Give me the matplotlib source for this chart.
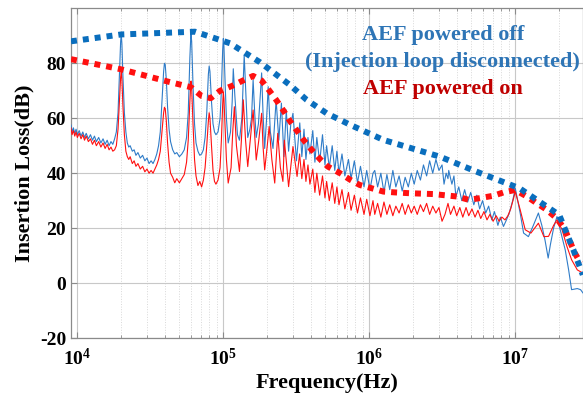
import matplotlib
matplotlib.use("Agg")
import matplotlib.pyplot as plt
from matplotlib.ticker import FixedLocator, NullFormatter, LogLocator

# ---------------- data ----------------
# AEF powered off (injection loop disconnected) - measured trace
freq_off = [9.05e3, 9.2e3, 9.4e3, 9.6e3, 9.8e3, 1.0e4, 1.03e4, 1.06e4, 1.09e4, 1.12e4,
            1.15e4, 1.19e4, 1.23e4, 1.27e4, 1.31e4, 1.35e4, 1.4e4, 1.45e4, 1.5e4, 1.55e4,
            1.6e4, 1.65e4, 1.7e4, 1.75e4, 1.8e4, 1.85e4, 1.9e4, 1.95e4, 1.98e4, 2.0e4,
            2.02e4, 2.05e4, 2.1e4, 2.15e4, 2.2e4, 2.25e4, 2.3e4, 2.38e4, 2.45e4, 2.52e4,
            2.6e4, 2.7e4, 2.8e4, 2.9e4, 3.0e4, 3.1e4, 3.2e4, 3.3e4, 3.4e4, 3.5e4,
            3.6e4, 3.7e4, 3.8e4, 3.9e4, 3.95e4, 4.0e4, 4.07e4, 4.15e4, 4.25e4, 4.35e4,
            4.5e4, 4.65e4, 4.8e4, 5.0e4, 5.2e4, 5.4e4, 5.6e4, 5.75e4, 5.9e4, 6.0e4,
            6.07e4, 6.2e4, 6.35e4, 6.5e4, 6.7e4, 6.9e4, 7.1e4, 7.3e4, 7.5e4, 7.7e4,
            7.9e4, 8.0e4, 8.1e4, 8.3e4, 8.5e4, 8.7e4, 8.9e4, 9.2e4, 9.5e4, 9.7e4,
            9.9e4, 1.0e5, 1.01e5, 1.03e5, 1.05e5, 1.08e5, 1.12e5, 1.15e5, 1.17e5, 1.2e5,
            1.25e5, 1.29e5, 1.34e5, 1.37e5, 1.39e5, 1.43e5, 1.47e5, 1.52e5, 1.56e5, 1.6e5,
            1.64e5, 1.68e5, 1.74e5, 1.8e5, 1.83e5, 1.87e5, 1.92e5, 1.98e5, 2.03e5, 2.1e5,
            2.19e5, 2.3e5, 2.4e5, 2.5e5, 2.6e5, 2.7e5, 2.8e5, 2.9e5, 3.0e5, 3.17e5,
            3.34e5, 3.45e5, 3.57e5, 3.68e5, 3.8e5, 3.92e5, 4.1e5, 4.24e5, 4.37e5, 4.57e5,
            4.78e5, 4.97e5, 5.1e5, 5.32e5, 5.57e5, 5.8e5, 6.0e5, 6.2e5, 6.5e5, 6.8e5,
            7.2e5, 7.5e5, 7.9e5, 8.3e5, 8.7e5, 9.2e5, 9.6e5, 1.01e6, 1.06e6, 1.09e6,
            1.14e6, 1.2e6, 1.26e6, 1.32e6, 1.38e6, 1.45e6, 1.52e6, 1.6e6, 1.68e6, 1.76e6,
            1.85e6, 1.94e6, 2.03e6, 2.13e6, 2.24e6, 2.35e6, 2.47e6, 2.59e6, 2.72e6, 2.86e6,
            3.0e6, 3.15e6, 3.25e6, 3.36e6, 3.46e6, 3.5e6, 3.68e6, 3.8e6, 3.92e6, 4.1e6,
            4.3e6, 4.5e6, 4.72e6, 4.95e6, 5.2e6, 5.45e6, 5.7e6, 5.97e6, 6.27e6, 6.57e6,
            6.9e6, 7.2e6, 7.6e6, 7.9e6, 8.3e6, 8.7e6, 9.1e6, 9.6e6, 1.0e7, 1.04e7,
            1.08e7, 1.14e7, 1.23e7, 1.33e7, 1.44e7, 1.52e7, 1.6e7, 1.68e7, 1.74e7, 1.83e7,
            1.93e7, 2.02e7, 2.2e7, 2.32e7, 2.43e7, 2.66e7, 2.8e7, 2.91e7]
il_off = [57.5, 55.0, 56.5, 54.5, 56.0, 54.0, 55.5, 53.5, 55.0, 53.0,
          54.5, 52.5, 54.0, 52.0, 53.5, 51.5, 53.0, 51.0, 52.5, 50.5,
          52.0, 50.0, 51.5, 50.5, 52.5, 55.0, 62.0, 78.0, 88.0, 90.5,
          87.0, 76.0, 62.0, 55.0, 51.0, 49.5, 50.0, 48.0, 48.5, 46.5,
          47.5, 45.5, 46.5, 44.5, 45.5, 43.5, 44.5, 43.5, 45.0, 47.0,
          50.0, 55.0, 66.0, 77.0, 80.0, 79.5, 74.0, 64.0, 56.0, 51.5,
          48.5, 47.0, 47.5, 46.0, 47.0, 48.5, 53.0, 62.0, 82.0, 91.0,
          88.0, 72.0, 58.0, 51.0, 48.0, 46.5, 47.0, 48.5, 53.0, 62.0,
          76.0, 79.0, 77.0, 66.0, 58.0, 55.0, 54.0, 55.0, 60.0, 70.0,
          85.0, 89.0, 86.0, 72.0, 60.0, 51.0, 55.0, 66.0, 78.0, 68.0,
          54.0, 52.0, 60.0, 74.0, 83.0, 68.0, 53.0, 56.0, 60.0, 74.0,
          62.0, 53.0, 58.0, 70.0, 76.5, 62.0, 49.0, 60.0, 71.5, 55.0,
          49.0, 66.7, 52.0, 65.5, 46.0, 63.0, 48.0, 58.0, 61.8, 44.5,
          58.3, 46.0, 56.0, 45.0, 53.0, 47.0, 55.5, 44.0, 53.0, 44.0,
          54.0, 43.0, 50.0, 42.0, 50.0, 41.0, 48.0, 40.0, 47.0, 39.0,
          45.0, 38.0, 44.5, 36.5, 42.5, 35.0, 41.0, 34.0, 40.0, 41.0,
          35.0, 40.0, 33.0, 39.5, 34.0, 41.0, 35.0, 39.0, 33.5, 38.5,
          35.0, 40.0, 36.0, 41.0, 37.5, 43.0, 39.0, 44.5, 40.0, 45.0,
          41.0, 43.0, 36.0, 40.0, 38.0, 41.0, 36.0, 39.0, 31.5, 35.0,
          30.0, 34.0, 29.5, 33.0, 28.5, 32.0, 27.0, 30.0, 25.5, 28.0,
          23.0, 26.0, 21.0, 24.0, 20.6, 23.0, 25.5, 30.0, 34.5, 30.0,
          25.5, 18.2, 16.9, 21.0, 25.5, 21.0, 15.5, 9.1, 14.0, 20.0,
          24.2, 20.0, 12.0, 4.8, -2.4, -2.0, -2.4, -3.6]

# AEF powered on - measured trace
freq_on = [9.05e3, 9.2e3, 9.4e3, 9.6e3, 9.8e3, 1.0e4, 1.03e4, 1.06e4, 1.09e4, 1.12e4,
           1.15e4, 1.19e4, 1.23e4, 1.27e4, 1.31e4, 1.35e4, 1.4e4, 1.45e4, 1.5e4, 1.55e4,
           1.6e4, 1.65e4, 1.7e4, 1.75e4, 1.8e4, 1.85e4, 1.9e4, 1.95e4, 1.98e4, 2.0e4,
           2.02e4, 2.05e4, 2.1e4, 2.15e4, 2.2e4, 2.25e4, 2.3e4, 2.38e4, 2.45e4, 2.52e4,
           2.6e4, 2.7e4, 2.8e4, 2.9e4, 3.0e4, 3.1e4, 3.2e4, 3.3e4, 3.4e4, 3.5e4,
           3.6e4, 3.7e4, 3.8e4, 3.9e4, 3.95e4, 4.0e4, 4.07e4, 4.15e4, 4.25e4, 4.35e4,
           4.5e4, 4.65e4, 4.8e4, 5.0e4, 5.2e4, 5.4e4, 5.6e4, 5.75e4, 5.9e4, 6.0e4,
           6.07e4, 6.2e4, 6.35e4, 6.5e4, 6.7e4, 6.9e4, 7.1e4, 7.3e4, 7.5e4, 7.7e4,
           7.9e4, 8.0e4, 8.1e4, 8.3e4, 8.5e4, 8.7e4, 8.9e4, 9.2e4, 9.5e4, 9.7e4,
           9.9e4, 1.0e5, 1.01e5, 1.03e5, 1.05e5, 1.08e5, 1.13e5, 1.16e5, 1.19e5, 1.23e5,
           1.29e5, 1.33e5, 1.37e5, 1.42e5, 1.47e5, 1.53e5, 1.6e5, 1.64e5, 1.68e5, 1.75e5,
           1.83e5, 1.87e5, 1.92e5, 2.0e5, 2.06e5, 2.15e5, 2.25e5, 2.36e5, 2.46e5, 2.56e5,
           2.62e5, 2.8e5, 3.0e5, 3.2e5, 3.33e5, 3.45e5, 3.57e5, 3.68e5, 3.8e5, 3.92e5,
           4.1e5, 4.24e5, 4.37e5, 4.57e5, 4.78e5, 4.97e5, 5.1e5, 5.32e5, 5.57e5, 5.8e5,
           6.0e5, 6.2e5, 6.5e5, 6.8e5, 7.2e5, 7.5e5, 7.9e5, 8.3e5, 8.7e5, 9.2e5,
           9.6e5, 1.01e6, 1.06e6, 1.09e6, 1.14e6, 1.2e6, 1.26e6, 1.32e6, 1.38e6, 1.45e6,
           1.52e6, 1.6e6, 1.68e6, 1.76e6, 1.85e6, 1.94e6, 2.03e6, 2.13e6, 2.24e6, 2.35e6,
           2.47e6, 2.59e6, 2.72e6, 2.86e6, 3.0e6, 3.15e6, 3.3e6, 3.46e6, 3.6e6, 3.8e6,
           3.97e6, 4.17e6, 4.37e6, 4.6e6, 4.8e6, 5.05e6, 5.3e6, 5.55e6, 5.8e6, 6.1e6,
           6.4e6, 6.7e6, 7.05e6, 7.4e6, 7.75e6, 8.1e6, 8.5e6, 8.9e6, 9.3e6, 9.75e6,
           1.0e7, 1.08e7, 1.17e7, 1.28e7, 1.44e7, 1.57e7, 1.69e7, 1.83e7, 1.93e7, 2.09e7,
           2.26e7, 2.43e7, 2.66e7, 2.91e7]
il_on = [56.5, 54.0, 55.5, 53.5, 55.0, 53.0, 54.5, 52.5, 54.0, 52.0,
         53.5, 51.5, 52.5, 50.5, 52.0, 50.0, 51.5, 49.5, 51.0, 49.0,
         50.5, 48.5, 49.5, 48.0, 48.5, 50.0, 56.0, 68.0, 75.0, 77.0,
         74.0, 65.0, 54.0, 48.0, 46.0, 45.0, 46.0, 43.5, 44.5, 42.5,
         43.5, 41.5, 42.5, 40.5, 41.5, 40.0, 41.0, 40.0, 41.5, 43.0,
         45.0, 48.0, 55.0, 62.0, 64.0, 63.5, 59.0, 51.0, 44.0, 40.0,
         38.5, 36.5, 38.0, 36.5, 38.0, 39.5, 44.0, 52.0, 66.0, 73.5,
         71.0, 58.0, 45.0, 39.0, 35.5, 37.0, 35.0, 37.5, 42.0, 50.0,
         59.0, 62.0, 60.0, 50.0, 41.0, 37.0, 36.0, 37.5, 42.0, 52.0,
         65.0, 69.5, 67.0, 56.0, 45.0, 36.4, 42.0, 55.0, 64.2, 50.0,
         40.6, 52.0, 66.7, 52.0, 42.4, 52.0, 63.0, 54.0, 44.8, 52.0,
         61.8, 50.0, 41.2, 50.0, 57.0, 45.0, 36.4, 54.5, 42.0, 37.0,
         52.0, 35.1, 49.7, 38.8, 47.0, 38.0, 45.0, 37.0, 43.0, 36.0,
         41.5, 33.0, 40.0, 32.0, 39.0, 31.0, 37.0, 30.0, 36.5, 29.0,
         35.0, 28.5, 34.0, 27.0, 33.0, 26.5, 32.0, 25.5, 31.0, 25.0,
         30.5, 24.5, 30.0, 25.0, 29.0, 24.0, 29.5, 25.0, 28.5, 24.5,
         28.0, 25.5, 29.0, 25.0, 28.5, 25.5, 28.0, 25.0, 28.5, 26.0,
         29.0, 25.0, 28.0, 25.5, 27.5, 22.5, 25.0, 29.0, 25.0, 28.0,
         24.5, 27.5, 24.0, 27.5, 24.5, 27.0, 24.0, 26.5, 23.5, 26.0,
         23.0, 25.0, 22.5, 24.5, 22.5, 24.0, 23.0, 24.5, 27.0, 31.0,
         33.3, 26.7, 19.4, 18.2, 21.8, 16.9, 17.0, 21.0, 23.0, 19.5,
         13.3, 8.5, 4.8, 3.6]

# Dotted envelope lines
env_off_freq = [9.05e3, 2.0e4, 6.4e4, 1.11e5, 1.78e5, 2.86e5, 3.72e5, 5.1e5, 7.4e5,
                1.25e6, 3.05e6, 5.4e6, 1.07e7, 2.0e7, 2.5e7, 2.9e7]
env_off_il = [88.0, 90.5, 91.5, 87.3, 80.4, 72.1, 66.7, 61.8, 57.6,
              52.1, 46.0, 40.6, 34.5, 24.8, 12.1, 3.0]
env_on_freq = [9.05e3, 2.0e4, 4.2e4, 6.0e4, 7.1e4, 8.2e4, 9.5e4, 1.14e5, 1.36e5, 1.6e5,
               1.83e5, 2.07e5, 2.3e5, 2.58e5, 2.86e5, 3.2e5, 3.57e5, 4.03e5, 4.6e5, 5.2e5,
               6.3e5, 7.4e5, 8.6e5, 1.04e6, 1.25e6, 1.5e6, 1.9e6, 2.74e6, 4.0e6, 4.8e6,
               5.7e6, 7.1e6, 8.3e6, 1.0e7, 1.2e7, 1.4e7, 1.64e7, 1.92e7, 2.19e7, 2.37e7,
               2.56e7, 2.8e7]
env_on_il = [81.5, 77.8, 73.3, 71.3, 68.1, 67.3, 70.0, 71.7, 73.7, 75.4,
             73.7, 70.0, 66.7, 62.8, 59.0, 55.4, 51.9, 48.5, 45.1, 42.4,
             40.0, 37.6, 35.7, 34.5, 33.3, 33.0, 32.7, 32.4, 31.5, 30.3,
             30.9, 31.8, 33.0, 33.9, 31.5, 29.1, 26.7, 23.6, 19.4, 15.1,
             10.9, 7.3]

xtick_values = [1e4, 1e5, 1e6, 1e7]
xtick_labels = ["4", "5", "6", "7"]
ytick_values = [-20, 0, 20, 40, 60, 80]

label_off_1 = "AEF powered off"
label_off_2 = "(Injection loop disconnected)"
label_on = "AEF powered on"

# ---------------- figure ----------------
plt.rcParams["font.family"] = ["Liberation Serif", "DejaVu Serif"]
plt.rcParams["font.weight"] = "bold"
plt.rcParams["mathtext.fontset"] = "custom"
plt.rcParams["mathtext.rm"] = "Liberation Serif:bold"
plt.rcParams["mathtext.bf"] = "Liberation Serif:bold"
plt.rcParams["mathtext.it"] = "Liberation Serif:bold"

fig = plt.figure(figsize=(5.83, 4.07), dpi=100)
ax = fig.add_axes([0.1218, 0.1695, 0.8782, 0.810])

blue_trace = "#2F7CC8"
blue_dot = "#0A6EBD"
red = "#FF1010"

ax.plot(freq_off, il_off, color=blue_trace, lw=0.8, zorder=3)
ax.plot(freq_on, il_on, color=red, lw=0.8, zorder=3)
ax.plot(env_on_freq, env_on_il, color=red, lw=4.3, linestyle=(0, (1, 1)),
        dash_capstyle="butt", zorder=4)
ax.plot(env_off_freq, env_off_il, color=blue_dot, lw=4.3, linestyle=(0, (1, 1)),
        dash_capstyle="butt", zorder=5)

ax.set_xscale("log")
ax.set_xlim(9.05e3, 2.91e7)
ax.set_ylim(-20, 100)

ax.xaxis.set_major_locator(FixedLocator(xtick_values))
ax.set_xticklabels([r"$\mathbf{10^{%s}}$" % e for e in xtick_labels])
ax.xaxis.set_minor_locator(LogLocator(base=10, subs=range(2, 10), numticks=20))
ax.xaxis.set_minor_formatter(NullFormatter())
ax.set_yticks(ytick_values)
ax.set_yticklabels([str(v) for v in ytick_values])

ax.grid(True, which="major", color="#c8c8c8", lw=0.8, ls="-", zorder=0)
ax.grid(True, which="minor", axis="x", color="#d8d8d8", lw=0.7, ls=":", zorder=0)
ax.set_axisbelow(True)

for s in ax.spines.values():
    s.set_color("#8a8a8a")
    s.set_linewidth(0.9)
ax.tick_params(which="both", direction="in", colors="#8a8a8a", top=True, right=False,
               labelcolor="black", labelsize=14)
ax.tick_params(which="major", length=4)
ax.tick_params(which="minor", length=2)
for t in ax.get_xticklabels() + ax.get_yticklabels():
    t.set_fontweight("bold")
ax.tick_params(axis="x", pad=7)

ax.set_xlabel("Frequency(Hz)", fontsize=16, fontweight="bold", labelpad=3)
ax.set_ylabel("Insertion Loss(dB)", fontsize=16, fontweight="bold", labelpad=4)

ax.text(0.726, 0.920, label_off_1, transform=ax.transAxes, ha="center", va="center",
        fontsize=16, fontweight="bold", color="#2E75B6", zorder=6)
ax.text(0.726, 0.837, label_off_2, transform=ax.transAxes, ha="center", va="center",
        fontsize=16, fontweight="bold", color="#2E75B6", zorder=6)
ax.text(0.726, 0.754, label_on, transform=ax.transAxes, ha="center", va="center",
        fontsize=16, fontweight="bold", color="#C00000", zorder=6)

fig.savefig("out.png", dpi=100)
